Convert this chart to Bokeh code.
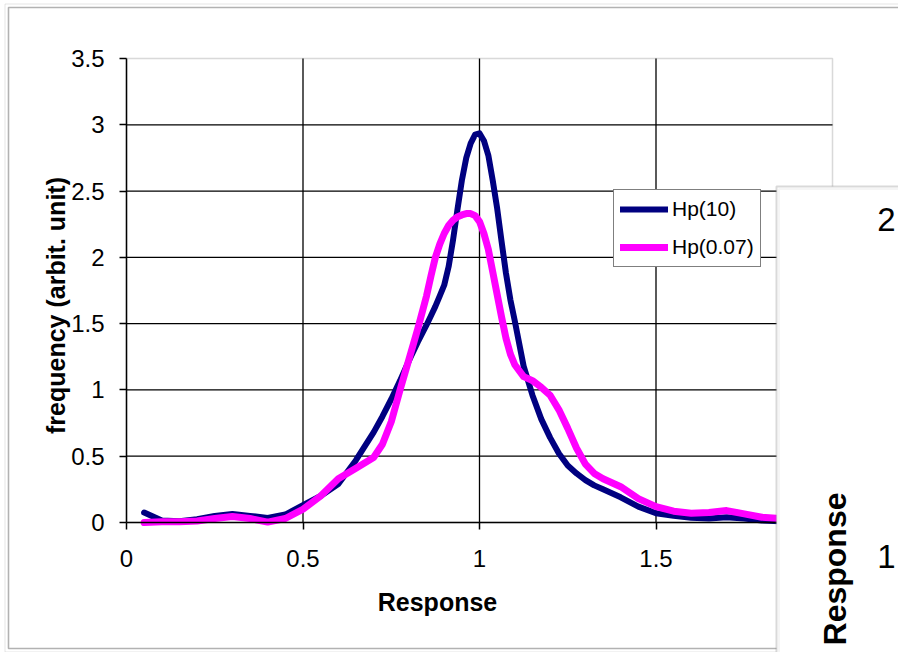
import math
from bokeh.plotting import figure
from bokeh.models import Range1d, FixedTicker, BoxAnnotation, Label, Legend, LegendItem
from bokeh.embed import file_html
from bokeh.resources import INLINE

# ---------------- data ----------------
response = [0.05, 0.10, 0.15, 0.20, 0.25, 0.30, 0.35, 0.40, 0.45, 0.50, 0.55, 0.60, 0.65, 0.70,
            0.725, 0.75, 0.775, 0.80, 0.825,
            0.85, 0.8625, 0.875, 0.8875, 0.90, 0.9125, 0.925, 0.9375, 0.95, 0.9625, 0.975, 0.9875,
            1.00, 1.0125, 1.025, 1.0375, 1.05, 1.0625, 1.075, 1.0875, 1.10,
            1.125, 1.15, 1.175, 1.20, 1.225, 1.25, 1.275, 1.30, 1.325,
            1.35, 1.40, 1.45, 1.50, 1.55, 1.60, 1.65, 1.70, 1.75, 1.80, 1.85, 1.90, 1.95, 2.00]

hp_10 = [0.075, 0.015, 0.01, 0.025, 0.05, 0.065, 0.05, 0.035, 0.06, 0.13, 0.20, 0.29, 0.47, 0.68,
         0.80, 0.93, 1.07, 1.22, 1.36,
         1.49, 1.56, 1.63, 1.71, 1.79, 1.93, 2.13, 2.36, 2.58, 2.75, 2.86, 2.925,
         2.935, 2.88, 2.77, 2.58, 2.37, 2.12, 1.88, 1.68, 1.52,
         1.18, 0.96, 0.78, 0.64, 0.52, 0.43, 0.37, 0.32, 0.28,
         0.25, 0.19, 0.12, 0.07, 0.05, 0.035, 0.03, 0.04, 0.03, 0.015, 0.01, 0.008, 0.005, 0.003]

hp_007 = [0.0, 0.005, 0.005, 0.012, 0.03, 0.045, 0.03, 0.003, 0.03, 0.10, 0.20, 0.33, 0.41, 0.49,
          0.59, 0.76, 1.00, 1.23, 1.46,
          1.71, 1.86, 2.00, 2.10, 2.18, 2.24, 2.28, 2.305, 2.32, 2.33, 2.33, 2.315,
          2.27, 2.18, 2.06, 1.89, 1.72, 1.55, 1.39, 1.27, 1.19,
          1.10, 1.07, 1.02, 0.96, 0.85, 0.71, 0.56, 0.44, 0.37,
          0.33, 0.27, 0.18, 0.12, 0.085, 0.07, 0.075, 0.09, 0.065, 0.04, 0.03, 0.02, 0.012, 0.01]

series_names = ["Hp(10)", "Hp(0.07)"]
x_ticks = [0, 0.5, 1, 1.5]
x_tick_labels = ["0", "0.5", "1", "1.5"]
y_ticks = [0, 0.5, 1, 1.5, 2, 2.5, 3, 3.5]
y_tick_labels = ["0", "0.5", "1", "1.5", "2", "2.5", "3", "3.5"]
x_grid = [0.5, 1, 1.5]
y_grid = [0.5, 1, 1.5, 2, 2.5, 3]
x_min, x_max = 0, 2
y_min, y_max = 0, 3.5
x_title = "Response"
y_title = "frequency (arbit. unit)"
panel_tick_labels = ["2", "1"]
panel_title = "Response"

FONT = "Liberation Sans"
W, H = 898, 652
# pixel geometry of the plot area inside the page
PX0, PX1 = 126, 832      # x = 0 .. 2
PY0, PY1 = 522, 58       # y = 0 .. 3.5
sx = (PX1 - PX0) / (x_max - x_min)
sy = (PY0 - PY1) / (y_max - y_min)


def dx(px):
    return x_min + (px - PX0) / sx


def dy(py):
    return y_min + (PY0 - py) / sy


p = figure(width=W, height=H, output_backend="svg", toolbar_location=None,
           x_range=Range1d(dx(0), dx(W)), y_range=Range1d(dy(H), dy(0)),
           min_border=0, min_border_left=0, min_border_right=0,
           min_border_top=0, min_border_bottom=0)
p.background_fill_color = "white"
p.border_fill_color = "white"
p.outline_line_color = None
p.xgrid.visible = False
p.ygrid.visible = False

# axes crossing at the origin of the plot area
p.xaxis.fixed_location = y_min
p.yaxis.fixed_location = x_min
p.xaxis.bounds = (x_min, x_max)
p.yaxis.bounds = (y_min, y_max)
for ax in (p.xaxis[0], p.yaxis[0]):
    ax.axis_line_color = "black"
    ax.axis_line_width = 1.5
    ax.major_tick_line_color = "black"
    ax.major_tick_line_width = 1.5
    ax.major_tick_in = 0
    ax.major_tick_out = 7
    ax.minor_tick_line_color = None
    ax.major_label_text_font = FONT
    ax.major_label_text_font_size = "24px"
    ax.major_label_text_color = "black"

p.xaxis.ticker = FixedTicker(ticks=x_ticks)
p.yaxis.ticker = FixedTicker(ticks=y_ticks)
p.xaxis.major_label_overrides = dict(zip(x_ticks, x_tick_labels))
p.yaxis.major_label_overrides = dict(zip(y_ticks, y_tick_labels))
p.xaxis.major_label_standoff = 20
p.yaxis.major_label_standoff = 15

# plot-area outline and grid
p.add_layout(BoxAnnotation(left=x_min, right=x_max, bottom=y_min, top=y_max, level="underlay",
                           fill_alpha=0, line_color="#808080", line_width=1.5))
p.segment(x0=x_grid, y0=[y_min] * len(x_grid), x1=x_grid, y1=[y_max] * len(x_grid),
          line_color="black", line_width=1.3)
p.segment(x0=[x_min] * len(y_grid), y0=y_grid, x1=[x_max] * len(y_grid), y1=y_grid,
          line_color="black", line_width=1.3)

# lines
r1 = p.line(response, hp_10, line_color="#000080", line_width=6, line_join="round", line_cap="round")
r2 = p.line(response, hp_007, line_color="#FF00FF", line_width=7, line_join="round", line_cap="round")

legend = Legend(items=[LegendItem(label=series_names[0], renderers=[r1]),
                       LegendItem(label=series_names[1], renderers=[r2])],
                location=(613, H - 267), orientation="vertical")
legend.border_line_color = "black"
legend.border_line_width = 1.3
legend.background_fill_color = "white"
legend.background_fill_alpha = 1
legend.label_text_font = FONT
legend.label_text_font_size = "21px"
legend.label_text_color = "black"
legend.padding = 6
legend.margin = 0
legend.spacing = 12
legend.glyph_width = 48
legend.glyph_height = 26
legend.label_height = 26
legend.label_standoff = 4
p.add_layout(legend)

# axis titles (placed like the original, slightly off-center)
p.add_layout(Label(x=dx(437), y=dy(601), text=x_title, text_font=FONT, text_font_size="25px",
                   text_font_style="bold", text_color="black",
                   text_align="center", text_baseline="middle"))
p.add_layout(Label(x=dx(55), y=dy(305), text=y_title, text_font=FONT, text_font_size="25px",
                   text_font_style="bold", text_color="black",
                   text_align="center", text_baseline="middle", angle=math.pi / 2))

# outer chart border
p.add_layout(BoxAnnotation(left=dx(8), right=dx(W + 20), top=dy(7), bottom=dy(648),
                           fill_alpha=0, line_color="black", line_width=1.6))
p.add_layout(BoxAnnotation(left=dx(4.5), right=dx(W + 20), top=dy(3.5), bottom=dy(651.5),
                           fill_alpha=0, line_color="#a8a8a8", line_width=1))

# overlapping second chart panel
p.add_layout(BoxAnnotation(left=dx(776), right=dx(W + 40), top=dy(186), bottom=dy(H + 40),
                           fill_color="white", fill_alpha=1, line_color="#808080", line_width=2))
p.add_layout(BoxAnnotation(left=dx(778.5), right=dx(W + 40), top=dy(188.5), bottom=dy(H + 40),
                           fill_alpha=0, line_color="#dedede", line_width=2))
p.add_layout(Label(x=dx(895), y=dy(219), text=panel_tick_labels[0], text_font=FONT, text_font_size="33px",
                   text_color="black", text_align="right", text_baseline="middle"))
p.add_layout(Label(x=dx(895), y=dy(556), text=panel_tick_labels[1], text_font=FONT, text_font_size="33px",
                   text_color="black", text_align="right", text_baseline="middle"))
p.add_layout(Label(x=dx(834), y=dy(492), text=panel_title, text_font=FONT, text_font_size="32px",
                   text_font_style="bold", text_color="black",
                   text_align="right", text_baseline="middle", angle=math.pi / 2))

open("out.html", "w").write(file_html(p, INLINE))
